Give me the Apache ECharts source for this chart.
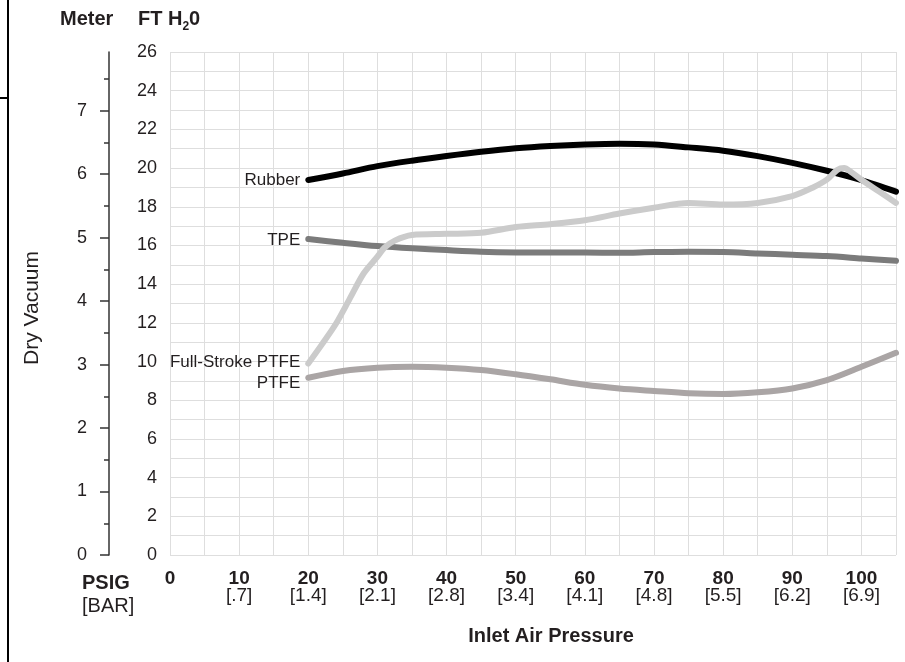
<!DOCTYPE html>
<html><head><meta charset="utf-8">
<script src="https://cdn.jsdelivr.net/npm/echarts@6/dist/echarts.min.js"></script>
<style>html,body{margin:0;padding:0;background:#fff}#c{width:905px;height:662px}</style>
</head><body><div id="c"></div>
<script>
// ---- tick labels ----
const psigTicks = [0, 10, 20, 30, 40, 50, 60, 70, 80, 90, 100];
const barTicks = ['', '.7', '1.4', '2.1', '2.8', '3.4', '4.1', '4.8', '5.5', '6.2', '6.9'];
const ftTicks = [0, 2, 4, 6, 8, 10, 12, 14, 16, 18, 20, 22, 24, 26];
const meterTicks = [0, 1, 2, 3, 4, 5, 6, 7];
const meterMinorTicks = [0.5, 1.5, 2.5, 3.5, 4.5, 5.5, 6.5, 7.5];
const FT_PER_METER = 3.28084;

// ---- series data (PSIG -> FT H2O) ----
const pressure = [20, 25, 30, 35, 40, 45, 50, 55, 60, 65, 70, 75, 80, 85, 90, 95, 100, 105];
const rubber = [19.38, 19.72, 20.1, 20.38, 20.62, 20.84, 21.02, 21.14, 21.22, 21.26, 21.22, 21.07, 20.9, 20.62, 20.27, 19.86, 19.38, 18.78];
const tpe = [16.33, 16.14, 15.97, 15.85, 15.76, 15.68, 15.64, 15.63, 15.63, 15.62, 15.66, 15.67, 15.66, 15.59, 15.52, 15.45, 15.33, 15.21];
const ptfe = [9.16, 9.51, 9.68, 9.73, 9.68, 9.56, 9.34, 9.08, 8.8, 8.61, 8.48, 8.36, 8.32, 8.41, 8.61, 9.04, 9.73, 10.45];
const fullStrokePressure = [20, 22, 24, 26, 28, 30, 31, 32.5, 35, 40, 45, 50, 55, 60, 65, 70, 75, 80, 85, 90, 93, 95, 96.5, 97.5, 98.5, 100, 102.5, 105];
const fullStroke = [9.9, 10.9, 11.95, 13.25, 14.55, 15.42, 15.88, 16.25, 16.54, 16.6, 16.66, 16.95, 17.1, 17.3, 17.65, 17.95, 18.2, 18.12, 18.2, 18.55, 19.0, 19.4, 19.9, 20.0, 19.8, 19.4, 18.8, 18.2];

const names = ['Rubber', 'TPE', 'PTFE', 'Full-Stroke PTFE'];
const TXT = '#231f20';
const FONT = 'Liberation Sans, Arial, Helvetica, sans-serif';

function pairs(xs, ys) { return xs.map((x, i) => [x, ys[i]]); }

function lineSeries(name, xs, ys, color, labelOffset) {
  return {
    name: name, type: 'line', xAxisIndex: 0, yAxisIndex: 0,
    data: pairs(xs, ys), showSymbol: false, smooth: 0.3,
    lineStyle: { color: color, width: 6, cap: 'round', join: 'round' },
    silent: true, animation: false,
    markPoint: {
      symbol: 'circle', symbolSize: 0, silent: true, animation: false,
      label: { show: true, position: 'left', distance: 8, offset: labelOffset,
        formatter: name, color: TXT, fontSize: 17, fontFamily: FONT },
      data: [{ coord: [xs[0], ys[0]] }]
    }
  };
}

const chart = echarts.init(document.getElementById('c'), null, { renderer: 'canvas' });
chart.setOption({
  animation: false,
  backgroundColor: '#ffffff',
  grid: { left: 170, right: 9, top: 52, bottom: 107, containLabel: false },
  xAxis: {
    type: 'value', min: 0, max: 105, interval: 5,
    axisLine: { show: false }, axisTick: { show: false },
    splitLine: { show: true, lineStyle: { color: '#dedede', width: 1 } },
    axisLabel: {
      margin: 15, verticalAlign: 'top', fontFamily: FONT, color: TXT,
      formatter: function (v) {
        const i = psigTicks.indexOf(v);
        if (i < 0) return '';
        if (!barTicks[i]) return '{b|' + v + '}';
        return '{b|' + v + '}\n{n|[' + barTicks[i] + ']}';
      },
      rich: {
        b: { fontSize: 19, fontWeight: 'bold', color: TXT, fontFamily: FONT, lineHeight: 17 },
        n: { fontSize: 19, color: TXT, fontFamily: FONT, lineHeight: 17 }
      }
    }
  },
  yAxis: [
    {
      type: 'value', min: 0, max: 26, interval: 1, position: 'left',
      axisLine: { show: false }, axisTick: { show: false },
      splitLine: { show: true, lineStyle: { color: '#dedede', width: 1 } },
      axisLabel: {
        margin: 13, fontSize: 18, color: TXT, fontFamily: FONT,
        formatter: function (v) { return ftTicks.indexOf(v) >= 0 ? String(v) : ''; }
      }
    },
    {
      type: 'value', min: 0, max: 26 / FT_PER_METER, position: 'left', offset: 61,
      axisLine: { show: true, onZero: false, lineStyle: { color: '#333333', width: 1.5 } },
      axisTick: { show: true, inside: false, length: 9, customValues: meterTicks, lineStyle: { color: '#333333', width: 1.5 } },
      splitLine: { show: false },
      axisLabel: { margin: 22, fontSize: 18, color: TXT, fontFamily: FONT, customValues: meterTicks }
    },
    {
      type: 'value', min: 0, max: 26 / FT_PER_METER, position: 'left', offset: 61,
      axisLine: { show: false },
      axisTick: { show: true, inside: false, length: 5, customValues: meterMinorTicks, lineStyle: { color: '#333333', width: 1.5 } },
      splitLine: { show: false },
      axisLabel: { show: false }
    }
  ],
  series: [
    lineSeries(names[0], pressure, rubber, '#000000', [0, 0]),
    lineSeries(names[1], pressure, tpe, '#7b7b7b', [0, 1]),
    lineSeries(names[2], pressure, ptfe, '#aaa5a5', [0, 6]),
    lineSeries(names[3], fullStrokePressure, fullStroke, '#cbcbcb', [0, -1])
  ],
  graphic: [
    { type: 'line', shape: { x1: 8, y1: 0, x2: 8, y2: 662 }, style: { stroke: '#000', lineWidth: 2 }, silent: true },
    { type: 'line', shape: { x1: 0, y1: 98, x2: 8, y2: 98 }, style: { stroke: '#000', lineWidth: 2 }, silent: true },
    { type: 'text', x: 60, y: 19, silent: true,
      style: { text: 'Meter', fill: TXT, font: 'bold 20px ' + FONT, textAlign: 'left', textVerticalAlign: 'middle' } },
    { type: 'text', x: 138, y: 19, silent: true,
      style: { text: '{m|FT H}{s|2}{m|0}', textAlign: 'left', textVerticalAlign: 'middle',
        rich: {
          m: { fontSize: 20, fontWeight: 'bold', fill: TXT, fontFamily: FONT, lineHeight: 22, verticalAlign: 'middle' },
          s: { fontSize: 12, fontWeight: 'bold', fill: TXT, fontFamily: FONT, lineHeight: 12, verticalAlign: 'bottom', padding: [0, 0, -3, 0] }
        } } },
    { type: 'text', x: 32, y: 308, rotation: Math.PI / 2, silent: true,
      style: { text: 'Dry Vacuum', fill: TXT, font: '21px ' + FONT, textAlign: 'center', textVerticalAlign: 'middle' } },
    { type: 'text', x: 82, y: 583, silent: true,
      style: { text: 'PSIG', fill: TXT, font: 'bold 20px ' + FONT, textAlign: 'left', textVerticalAlign: 'middle' } },
    { type: 'text', x: 82, y: 606, silent: true,
      style: { text: '[BAR]', fill: TXT, font: '20px ' + FONT, textAlign: 'left', textVerticalAlign: 'middle' } },
    { type: 'text', x: 551, y: 636, silent: true,
      style: { text: 'Inlet Air Pressure', fill: TXT, font: 'bold 20px ' + FONT, textAlign: 'center', textVerticalAlign: 'middle' } }
  ]
});
</script>
</body></html>
